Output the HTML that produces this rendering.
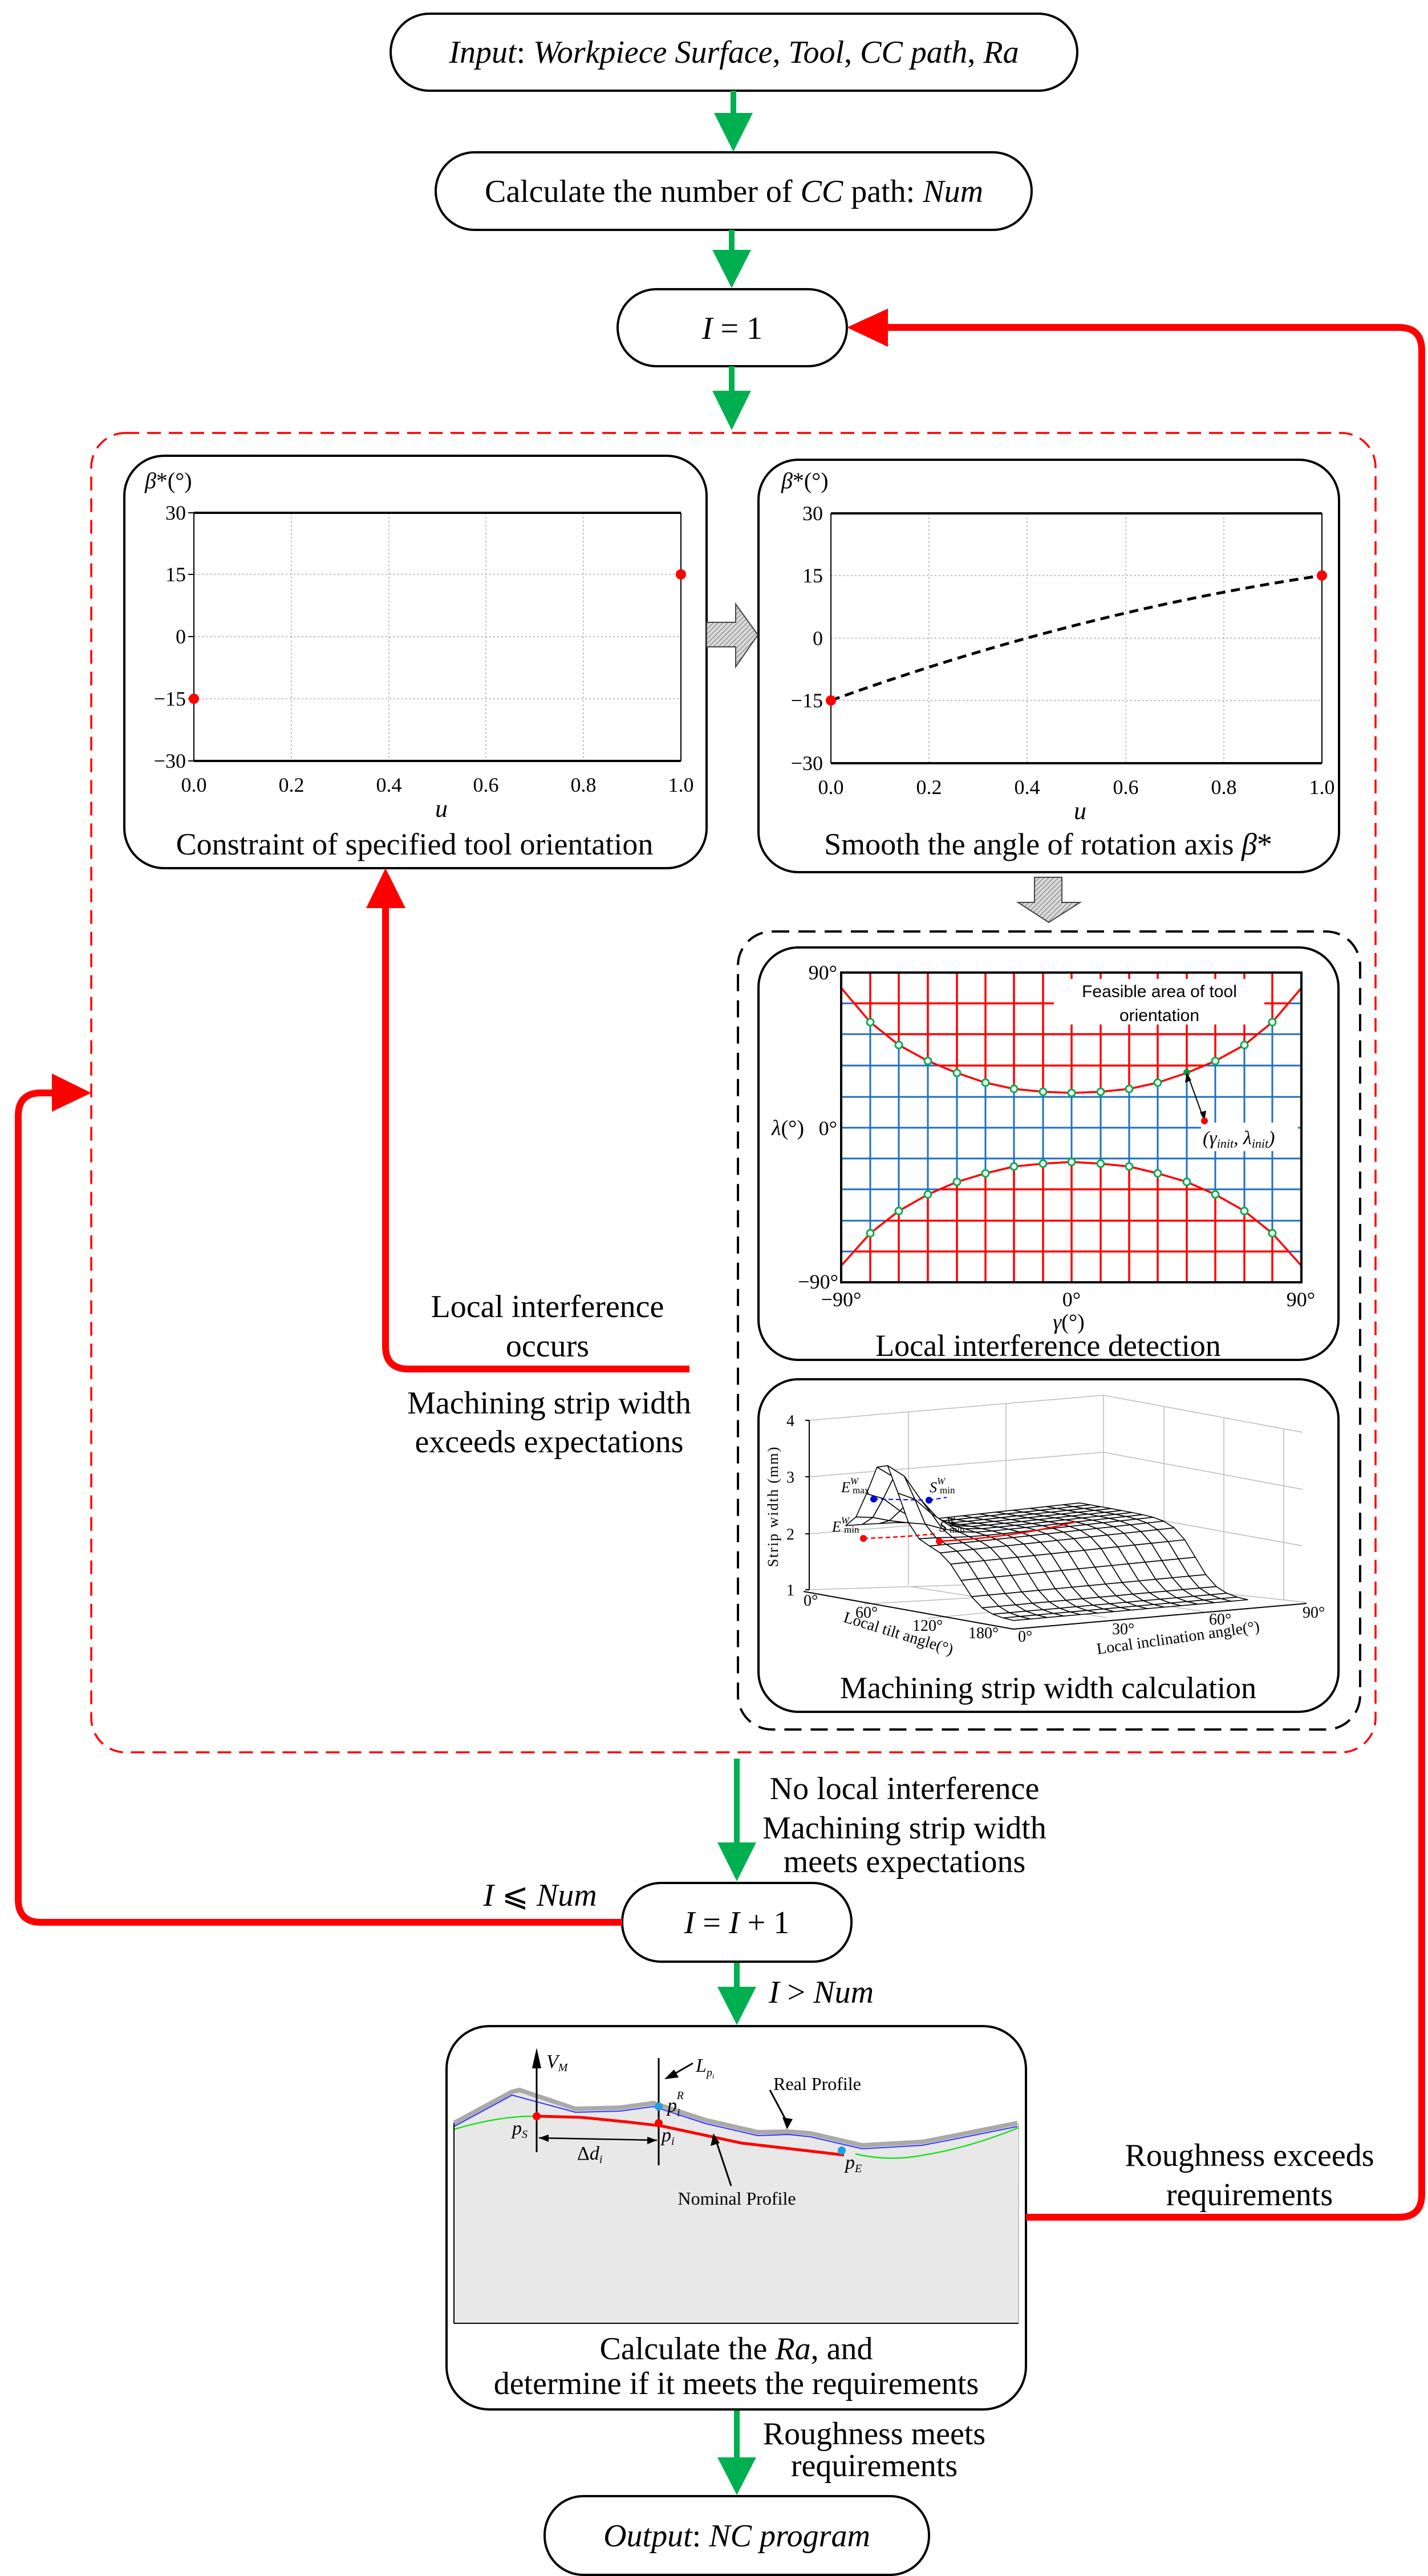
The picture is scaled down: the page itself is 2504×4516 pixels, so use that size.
<!DOCTYPE html>
<html><head><meta charset="utf-8"><style>
html,body{margin:0;padding:0;background:#fff;}
svg{display:block;}
text{font-family:"Liberation Serif",serif;}
.t56{font-size:56px;text-anchor:middle;}
.it{font-style:italic;}
.tk{font-size:36px;}
.sans{font-family:"Liberation Sans",sans-serif;}
</style></head><body>
<svg id="s" width="2504" height="4516" viewBox="0 0 2504 4516" xmlns="http://www.w3.org/2000/svg">
<defs>
<pattern id="hatch" width="6" height="6" patternUnits="userSpaceOnUse" patternTransform="rotate(45)">
<rect width="6" height="6" fill="#d8d8d8"/><line x1="0" y1="0" x2="0" y2="6" stroke="#777" stroke-width="2"/></pattern>
<clipPath id="outside">
<path d="M1475,1705 L2282,1705 L2282,1732 L2231,1792 L2182,1832 L2131,1860 L2081,1881 L2030,1898 L1980,1909 L1930,1914 L1879,1916 L1829,1914 L1778,1909 L1728,1898 L1678,1881 L1627,1860 L1576,1832 L1526,1792 L1475,1732 Z M1475,2248 L2282,2248 L2282,2219 L2231,2162 L2182,2123 L2131,2094 L2081,2072 L2030,2057 L1980,2045 L1930,2040 L1879,2037 L1829,2040 L1778,2045 L1728,2057 L1678,2072 L1627,2094 L1576,2123 L1526,2162 L1475,2219 Z"/>
</clipPath>
</defs>

<!-- Top boxes -->
<rect x="685" y="24" width="1204" height="135" rx="68" fill="#fff" stroke="#000" stroke-width="4"/>
<text x="1287" y="110" class="t56"><tspan class="it">Input</tspan>: <tspan class="it">Workpiece Surface</tspan>, <tspan class="it">Tool</tspan>, <tspan class="it">CC path</tspan>, <tspan class="it">Ra</tspan></text>
<rect x="764" y="267" width="1045" height="136" rx="68" fill="#fff" stroke="#000" stroke-width="4"/>
<text x="1287" y="354" class="t56">Calculate the number of <tspan class="it">CC</tspan> path: <tspan class="it">Num</tspan></text>
<rect x="1083" y="507" width="402" height="135" rx="68" fill="#fff" stroke="#000" stroke-width="4"/>
<text x="1284" y="594" class="t56"><tspan class="it">I</tspan> = 1</text>

<!-- green arrows -->
<g fill="#00b050">
<rect x="1281" y="159" width="10" height="45"/><polygon points="1252,198 1320,198 1286,266"/>
<rect x="1278" y="403" width="10" height="40"/><polygon points="1249,438 1317,438 1283,505"/>
<rect x="1278" y="642" width="10" height="48"/><polygon points="1249,685 1317,685 1283,754"/>
<rect x="1287" y="3083" width="10" height="152"/><polygon points="1258,3230 1326,3230 1292,3298"/>
<rect x="1287" y="3439" width="10" height="49"/><polygon points="1258,3483 1326,3483 1292,3550"/>
<rect x="1287" y="4224" width="10" height="89"/><polygon points="1258,4308 1326,4308 1292,4374"/>
</g>

<!-- red dashed big box -->
<rect x="160" y="759" width="2252" height="2313" rx="60" fill="none" stroke="#f00" stroke-width="3.5" stroke-dasharray="24 14"/>

<!-- Left plot box -->
<rect x="218" y="799" width="1021" height="723" rx="70" fill="#fff" stroke="#000" stroke-width="4"/>
<g>
<g stroke="#aaa" stroke-width="1.5" stroke-dasharray="3 4">
<line x1="340" y1="1007" x2="1194" y2="1007"/><line x1="340" y1="1116" x2="1194" y2="1116"/><line x1="340" y1="1225" x2="1194" y2="1225"/>
<line x1="511" y1="899" x2="511" y2="1334"/><line x1="682" y1="899" x2="682" y2="1334"/><line x1="852" y1="899" x2="852" y2="1334"/><line x1="1023" y1="899" x2="1023" y2="1334"/>
</g>
<line x1="340" y1="899" x2="1194" y2="899" stroke="#000" stroke-width="4"/>
<line x1="340" y1="1334" x2="1194" y2="1334" stroke="#000" stroke-width="4"/>
<line x1="340" y1="899" x2="340" y2="1334" stroke="#000" stroke-width="2"/>
<line x1="1194" y1="899" x2="1194" y2="1334" stroke="#000" stroke-width="2"/>
<g stroke="#000" stroke-width="2">
<line x1="330" y1="899" x2="340" y2="899"/><line x1="330" y1="1007" x2="340" y2="1007"/><line x1="330" y1="1116" x2="340" y2="1116"/><line x1="330" y1="1225" x2="340" y2="1225"/><line x1="330" y1="1334" x2="340" y2="1334"/>
</g>
<g class="tk" text-anchor="end">
<text x="326" y="911">30</text><text x="326" y="1019">15</text><text x="326" y="1128">0</text><text x="326" y="1237">−15</text><text x="326" y="1346">−30</text></g>
<g class="tk" text-anchor="middle">
<text x="340" y="1388">0.0</text><text x="511" y="1388">0.2</text><text x="682" y="1388">0.4</text><text x="852" y="1388">0.6</text><text x="1023" y="1388">0.8</text><text x="1194" y="1388">1.0</text></g>
<text x="774" y="1432" font-size="44" font-style="italic" text-anchor="middle">u</text>
<text x="254" y="856" font-size="40"><tspan font-style="italic">β</tspan>*(°)</text>
<circle cx="340" cy="1225" r="9" fill="#f00"/><circle cx="1194" cy="1007" r="9" fill="#f00"/>
<text x="727" y="1498" font-size="54" text-anchor="middle">Constraint of specified tool orientation</text>
</g>

<!-- Right plot box -->
<rect x="1330" y="806" width="1018" height="723" rx="70" fill="#fff" stroke="#000" stroke-width="4"/>
<g>
<g stroke="#aaa" stroke-width="1.5" stroke-dasharray="3 4">
<line x1="1457" y1="1009" x2="2318" y2="1009"/><line x1="1457" y1="1119" x2="2318" y2="1119"/><line x1="1457" y1="1228" x2="2318" y2="1228"/>
<line x1="1629" y1="900" x2="1629" y2="1338"/><line x1="1801" y1="900" x2="1801" y2="1338"/><line x1="1974" y1="900" x2="1974" y2="1338"/><line x1="2146" y1="900" x2="2146" y2="1338"/>
</g>
<line x1="1457" y1="900" x2="2318" y2="900" stroke="#000" stroke-width="4"/>
<line x1="1457" y1="1338" x2="2318" y2="1338" stroke="#000" stroke-width="4"/>
<line x1="1457" y1="900" x2="1457" y2="1338" stroke="#000" stroke-width="2"/>
<line x1="2318" y1="900" x2="2318" y2="1338" stroke="#000" stroke-width="2"/>
<g class="tk" text-anchor="end">
<text x="1443" y="912">30</text><text x="1443" y="1021">15</text><text x="1443" y="1131">0</text><text x="1443" y="1240">−15</text><text x="1443" y="1350">−30</text></g>
<g class="tk" text-anchor="middle">
<text x="1457" y="1392">0.0</text><text x="1629" y="1392">0.2</text><text x="1801" y="1392">0.4</text><text x="1974" y="1392">0.6</text><text x="2146" y="1392">0.8</text><text x="2318" y="1392">1.0</text></g>
<text x="1894" y="1436" font-size="44" font-style="italic" text-anchor="middle">u</text>
<text x="1370" y="856" font-size="40"><tspan font-style="italic">β</tspan>*(°)</text>
<path d="M1457,1228 Q1887,1073 2318,1009" fill="none" stroke="#000" stroke-width="5" stroke-dasharray="16 10"/>
<circle cx="1457" cy="1228" r="9" fill="#f00"/><circle cx="2318" cy="1009" r="9" fill="#f00"/>
<text x="1838" y="1498" font-size="54" text-anchor="middle">Smooth the angle of rotation axis <tspan font-style="italic">β</tspan>*</text>
</g>

<!-- gray hatched arrows -->
<polygon points="1239,1091 1290,1091 1290,1059 1329,1113 1290,1169 1290,1134 1239,1134" fill="url(#hatch)" stroke="#444" stroke-width="2"/>
<polygon points="1814,1538 1862,1538 1862,1582 1894,1582 1839,1617 1785,1582 1814,1582" fill="url(#hatch)" stroke="#444" stroke-width="2"/>

<!-- black dashed box -->
<rect x="1294" y="1633" width="1091" height="1399" rx="60" fill="none" stroke="#000" stroke-width="4" stroke-dasharray="30 16"/>

<!-- Interference box -->
<rect x="1330" y="1661" width="1017" height="723" rx="70" fill="#fff" stroke="#000" stroke-width="4"/>
<g>
<g stroke="#1f6fc0" stroke-width="3">
<line x1="1526" y1="1705" x2="1526" y2="2248"/><line x1="1576" y1="1705" x2="1576" y2="2248"/><line x1="1627" y1="1705" x2="1627" y2="2248"/><line x1="1678" y1="1705" x2="1678" y2="2248"/><line x1="1728" y1="1705" x2="1728" y2="2248"/><line x1="1778" y1="1705" x2="1778" y2="2248"/><line x1="1829" y1="1705" x2="1829" y2="2248"/><line x1="1879" y1="1705" x2="1879" y2="2248"/><line x1="1930" y1="1705" x2="1930" y2="2248"/><line x1="1980" y1="1705" x2="1980" y2="2248"/><line x1="2030" y1="1705" x2="2030" y2="2248"/><line x1="2081" y1="1705" x2="2081" y2="2248"/><line x1="2131" y1="1705" x2="2131" y2="2248"/><line x1="2182" y1="1705" x2="2182" y2="2248"/><line x1="2231" y1="1705" x2="2231" y2="2248"/>
<line x1="1475" y1="1759" x2="2282" y2="1759"/><line x1="1475" y1="1813" x2="2282" y2="1813"/><line x1="1475" y1="1868" x2="2282" y2="1868"/><line x1="1475" y1="1923" x2="2282" y2="1923"/><line x1="1475" y1="1977" x2="2282" y2="1977"/><line x1="1475" y1="2031" x2="2282" y2="2031"/><line x1="1475" y1="2085" x2="2282" y2="2085"/><line x1="1475" y1="2140" x2="2282" y2="2140"/><line x1="1475" y1="2194" x2="2282" y2="2194"/>
</g>
<g stroke="#f00" stroke-width="3.5" clip-path="url(#outside)">
<line x1="1526" y1="1705" x2="1526" y2="2248"/><line x1="1576" y1="1705" x2="1576" y2="2248"/><line x1="1627" y1="1705" x2="1627" y2="2248"/><line x1="1678" y1="1705" x2="1678" y2="2248"/><line x1="1728" y1="1705" x2="1728" y2="2248"/><line x1="1778" y1="1705" x2="1778" y2="2248"/><line x1="1829" y1="1705" x2="1829" y2="2248"/><line x1="1879" y1="1705" x2="1879" y2="2248"/><line x1="1930" y1="1705" x2="1930" y2="2248"/><line x1="1980" y1="1705" x2="1980" y2="2248"/><line x1="2030" y1="1705" x2="2030" y2="2248"/><line x1="2081" y1="1705" x2="2081" y2="2248"/><line x1="2131" y1="1705" x2="2131" y2="2248"/><line x1="2182" y1="1705" x2="2182" y2="2248"/><line x1="2231" y1="1705" x2="2231" y2="2248"/>
<line x1="1475" y1="1759" x2="2282" y2="1759"/><line x1="1475" y1="1813" x2="2282" y2="1813"/><line x1="1475" y1="1868" x2="2282" y2="1868"/><line x1="1475" y1="1923" x2="2282" y2="1923"/><line x1="1475" y1="2031" x2="2282" y2="2031"/><line x1="1475" y1="2085" x2="2282" y2="2085"/><line x1="1475" y1="2140" x2="2282" y2="2140"/><line x1="1475" y1="2194" x2="2282" y2="2194"/>
</g>
<rect x="1848" y="1716" width="369" height="80" fill="#fff"/>
<text x="2033" y="1748" font-size="30" text-anchor="middle" class="sans">Feasible area of tool</text>
<text x="2033" y="1790" font-size="30" text-anchor="middle" class="sans">orientation</text>
<g fill="none" stroke="#f00" stroke-width="3.5">
<polyline points="1475,1732 1526,1792 1576,1832 1627,1860 1678,1881 1728,1898 1778,1909 1829,1914 1879,1916 1930,1914 1980,1909 2030,1898 2081,1881 2131,1860 2182,1832 2231,1792 2282,1732"/>
<polyline points="1475,2219 1526,2162 1576,2123 1627,2094 1678,2072 1728,2057 1778,2045 1829,2040 1879,2037 1930,2040 1980,2045 2030,2057 2081,2072 2131,2094 2182,2123 2231,2162 2282,2219"/>
</g>
<g fill="#fff" stroke="#00b050" stroke-width="3">
<circle cx="1526" cy="1792" r="6"/><circle cx="1576" cy="1832" r="6"/><circle cx="1627" cy="1860" r="6"/><circle cx="1678" cy="1881" r="6"/><circle cx="1728" cy="1898" r="6"/><circle cx="1778" cy="1909" r="6"/><circle cx="1829" cy="1914" r="6"/><circle cx="1879" cy="1916" r="6"/><circle cx="1930" cy="1914" r="6"/><circle cx="1980" cy="1909" r="6"/><circle cx="2030" cy="1898" r="6"/><circle cx="2131" cy="1860" r="6"/><circle cx="2182" cy="1832" r="6"/><circle cx="2231" cy="1792" r="6"/>
<circle cx="1526" cy="2162" r="6"/><circle cx="1576" cy="2123" r="6"/><circle cx="1627" cy="2094" r="6"/><circle cx="1678" cy="2072" r="6"/><circle cx="1728" cy="2057" r="6"/><circle cx="1778" cy="2045" r="6"/><circle cx="1829" cy="2040" r="6"/><circle cx="1879" cy="2037" r="6"/><circle cx="1930" cy="2040" r="6"/><circle cx="1980" cy="2045" r="6"/><circle cx="2030" cy="2057" r="6"/><circle cx="2081" cy="2072" r="6"/><circle cx="2131" cy="2094" r="6"/><circle cx="2182" cy="2123" r="6"/><circle cx="2231" cy="2162" r="6"/>
</g>
<circle cx="2081" cy="1880" r="6" fill="#00a040"/>
<rect x="2106" y="1968" width="170" height="50" fill="#fff"/>
<line x1="2084" y1="1888" x2="2109" y2="1957" stroke="#000" stroke-width="2"/>
<polygon points="2081,1880 2078,1898 2089,1894" fill="#000"/><polygon points="2112,1965 2104,1950 2115,1947" fill="#000"/>
<circle cx="2112" cy="1965" r="6" fill="#f00"/>
<text x="2109" y="2006" font-size="34" font-style="italic">(γ<tspan font-size="22" dy="6">init</tspan><tspan dy="-6">, λ</tspan><tspan font-size="22" dy="6">init</tspan><tspan dy="-6">)</tspan></text>
<rect x="1475" y="1705" width="807" height="543" fill="none" stroke="#000" stroke-width="4"/>
<g font-size="36" text-anchor="end">
<text x="1468" y="1717">90°</text><text x="1468" y="1990">0°</text><text x="1470" y="2259">−90°</text></g>
<text x="1353" y="1990" font-size="38"><tspan font-style="italic">λ</tspan>(°)</text>
<g font-size="36" text-anchor="middle">
<text x="1475" y="2290">−90°</text><text x="1879" y="2290">0°</text><text x="2281" y="2290">90°</text></g>
<text x="1874" y="2330" font-size="38" text-anchor="middle"><tspan font-style="italic">γ</tspan>(°)</text>
<text x="1838" y="2377" font-size="54" text-anchor="middle">Local interference detection</text>
</g>

<!-- Strip width box -->
<rect x="1330" y="2418" width="1017" height="583" rx="70" fill="#fff" stroke="#000" stroke-width="4"/>
<g id="strip">
<g stroke="#bbb" stroke-width="1.5" fill="none">
<polyline points="1419,2490 1935,2446 2284,2511"/>
<polyline points="1419,2589 1935,2546 2284,2611"/>
<polyline points="1419,2689 1935,2647 2284,2710"/>
<polyline points="1419,2787 1935,2771 2291,2809"/>
<line x1="1935" y1="2446" x2="1935" y2="2771"/>
<line x1="1593" y1="2476" x2="1593" y2="2779"/><line x1="1764" y1="2460" x2="1764" y2="2775"/>
<line x1="2041" y1="2466" x2="2041" y2="2786"/><line x1="2146" y1="2486" x2="2146" y2="2797"/><line x1="2251" y1="2505" x2="2251" y2="2806"/>
<line x1="1515" y1="2812" x2="2025" y2="2783"/><line x1="1627" y1="2837" x2="2100" y2="2792"/>
<line x1="1941" y1="2836" x2="1600" y2="2782"/><line x1="2110" y1="2825" x2="1780" y2="2777"/>
</g>
<g stroke="#000" stroke-width="2" fill="none">
<line x1="1419" y1="2490" x2="1419" y2="2787"/>
<line x1="1409" y1="2790" x2="1777" y2="2856"/>
<line x1="1777" y1="2856" x2="2291" y2="2811"/>
<line x1="1412" y1="2490" x2="1419" y2="2490"/><line x1="1412" y1="2589" x2="1419" y2="2589"/><line x1="1412" y1="2689" x2="1419" y2="2689"/><line x1="1412" y1="2787" x2="1419" y2="2787"/>
</g>
<g id="mesh"></g>
<line x1="1532" y1="2628" x2="1629" y2="2630" stroke="#00f" stroke-width="2" stroke-dasharray="8 5"/>
<line x1="1629" y1="2630" x2="1660" y2="2625" stroke="#00f" stroke-width="2" stroke-dasharray="8 5"/>
<circle cx="1532" cy="2628" r="6" fill="#00c"/><circle cx="1629" cy="2630" r="6" fill="#00c"/>
<path d="M1514,2697 Q1580,2695 1640,2689" fill="none" stroke="#f00" stroke-width="2.5" stroke-dasharray="8 5"/>
<path d="M1647,2702 Q1780,2695 1886,2668" fill="none" stroke="#f00" stroke-width="2.5"/>
<circle cx="1514" cy="2697" r="6" fill="#f00"/><circle cx="1647" cy="2702" r="6" fill="#f00"/>
<g font-size="26">
<text x="1475" y="2616" font-style="italic">E<tspan font-size="17" dy="-14">W</tspan></text><text x="1495" y="2618" font-size="17">max</text>
<text x="1630" y="2616" font-style="italic">S<tspan font-size="17" dy="-14">W</tspan></text><text x="1648" y="2618" font-size="17">min</text>
<text x="1459" y="2685" font-style="italic">E<tspan font-size="17" dy="-14">W</tspan></text><text x="1480" y="2687" font-size="17">min</text>
<text x="1647" y="2685" font-style="italic">S<tspan font-size="17" dy="-14">W</tspan></text><text x="1665" y="2687" font-size="17">min</text>
</g>
<g font-size="28">
<text x="1393" y="2500" text-anchor="end">4</text><text x="1393" y="2599" text-anchor="end">3</text><text x="1393" y="2699" text-anchor="end">2</text><text x="1393" y="2797" text-anchor="end">1</text>
<text x="1409" y="2815">0°</text><text x="1500" y="2836">60°</text><text x="1600" y="2859">120°</text><text x="1698" y="2872">180°</text>
<text x="1785" y="2878">0°</text><text x="1950" y="2865">30°</text><text x="2120" y="2848">60°</text><text x="2284" y="2836">90°</text>
<text transform="translate(1573,2872) rotate(17)" text-anchor="middle">Local tilt angle(°)</text>
<text transform="translate(2067,2880) rotate(-8)" text-anchor="middle">Local inclination angle(°)</text>
<text transform="translate(1364,2641) rotate(-90)" text-anchor="middle" font-size="26" letter-spacing="2">Strip width (mm)</text>
</g>
<text x="1838" y="2977" font-size="54" text-anchor="middle">Machining strip width calculation</text>
</g>

<!-- I=I+1 box -->
<rect x="1091" y="3301" width="402" height="138" rx="68" fill="#fff" stroke="#000" stroke-width="4"/>
<text x="1292" y="3389" class="t56"><tspan class="it">I</tspan> = <tspan class="it">I</tspan> + 1</text>

<!-- Bottom box with profile -->
<rect x="783" y="3552" width="1016" height="672" rx="75" fill="#fff" stroke="#000" stroke-width="4"/>
<path d="M796,3722 L898,3667 L911,3664 L1009,3697 L1087,3695 L1146,3687 L1238,3717 L1329,3738 L1382,3737 L1421,3740 L1512,3761 L1617,3755 L1669,3745 L1784,3722 L1786,4073 L796,4073 Z" fill="#e8e8e8" stroke="none"/>
<path d="M796,3722 L898,3667 L911,3664 L1009,3697 L1087,3695 L1146,3687 L1238,3717 L1329,3738 L1382,3737 L1421,3740 L1512,3761 L1617,3755 L1669,3745 L1784,3722" fill="none" stroke="#aaa" stroke-width="8"/>
<path d="M796,3728 L898,3673 L1009,3703 L1087,3701 L1146,3693 L1238,3723 L1329,3744 L1382,3742 L1421,3746 L1512,3767 L1617,3761 L1669,3751 L1784,3728" fill="none" stroke="#33f" stroke-width="2"/>
<path d="M796,3733 Q880,3708 947,3710 M1500,3776 Q1560,3790 1620,3778 Q1700,3765 1786,3730" fill="none" stroke="#2d2" stroke-width="2.5"/>
<polyline points="947,3710 1020,3712 1100,3720 1160,3727 1300,3757 1480,3778" fill="none" stroke="#f00" stroke-width="5"/>
<line x1="796" y1="4073" x2="1786" y2="4073" stroke="#000" stroke-width="2"/>
<line x1="796" y1="3722" x2="796" y2="4073" stroke="#000" stroke-width="2"/>
<line x1="1786" y1="3722" x2="1786" y2="4073" stroke="#888" stroke-width="1"/>
<line x1="941" y1="3620" x2="941" y2="3773" stroke="#000" stroke-width="3"/>
<polygon points="933,3626 949,3626 941,3590" fill="#000"/>
<line x1="1155" y1="3608" x2="1155" y2="3796" stroke="#000" stroke-width="3"/>
<line x1="1215" y1="3617" x2="1175" y2="3640" stroke="#000" stroke-width="3"/>
<polygon points="1165,3645 1182,3628 1190,3642" fill="#000"/>
<line x1="1350" y1="3664" x2="1383" y2="3726" stroke="#000" stroke-width="3"/>
<polygon points="1380,3733 1372,3712 1390,3715" fill="#000"/>
<line x1="1282" y1="3832" x2="1254" y2="3748" stroke="#000" stroke-width="3"/>
<polygon points="1251,3740 1246,3762 1262,3757" fill="#000"/>
<line x1="945" y1="3748" x2="1152" y2="3752" stroke="#000" stroke-width="2.5"/>
<polygon points="945,3748 962,3742 962,3755" fill="#000"/><polygon points="1152,3752 1135,3746 1135,3759" fill="#000"/>
<circle cx="941" cy="3710" r="7" fill="#f00"/><circle cx="1155" cy="3722" r="7" fill="#f00"/>
<circle cx="1155" cy="3693" r="7" fill="#1ea0e6"/><circle cx="1476" cy="3770" r="7" fill="#1ea0e6"/>
<g font-size="34" font-style="italic">
<text x="958" y="3625">V<tspan font-size="20" dy="6">M</tspan></text>
<text x="1220" y="3632">L<tspan font-size="20" dy="8">p</tspan><tspan font-size="13" dy="4">i</tspan></text>
<text x="1170" y="3702">p<tspan font-size="20" dy="8">i</tspan><tspan font-size="20" dx="-6" dy="-30">R</tspan></text>
<text x="898" y="3742">p<tspan font-size="20" dy="6">S</tspan></text>
<text x="1160" y="3754">p<tspan font-size="20" dy="6">i</tspan></text>
<text x="1012" y="3786"><tspan font-style="normal">Δ</tspan>d<tspan font-size="20" dy="6">i</tspan></text>
<text x="1482" y="3802">p<tspan font-size="20" dy="6">E</tspan></text>
</g>
<text x="1433" y="3664" font-size="32" text-anchor="middle">Real Profile</text>
<text x="1292" y="3865" font-size="32" text-anchor="middle">Nominal Profile</text>
<text x="1291" y="4136" class="t56">Calculate the <tspan class="it">Ra</tspan>, and</text>
<text x="1291" y="4197" class="t56">determine if it meets the requirements</text>

<!-- Output -->
<rect x="955" y="4376" width="674" height="138" rx="68" fill="#fff" stroke="#000" stroke-width="4"/>
<text x="1292" y="4464" class="t56"><tspan class="it">Output</tspan>: <tspan class="it">NC program</tspan></text>

<!-- red connectors -->
<g fill="none" stroke="#f00" stroke-width="12" stroke-linejoin="round">
<path d="M1799,3887 L2453,3887 Q2493,3887 2493,3847 L2493,614 Q2493,574 2453,574 L1550,574"/>
<path d="M1091,3370 L72,3370 Q32,3370 32,3330 L32,1956 Q32,1916 72,1916 L96,1916"/>
<path d="M1209,2400 L716,2400 Q676,2400 676,2360 L676,1585"/>
</g>
<g fill="#f00">
<polygon points="1557,541 1557,608 1485,574"/>
<polygon points="91,1882 91,1949 160,1916"/>
<polygon points="642,1592 711,1592 676,1522"/>
</g>

<!-- connector labels -->
<text x="960" y="2309" class="t56">Local interference</text>
<text x="960" y="2378" class="t56">occurs</text>
<text x="963" y="2478" class="t56">Machining strip width</text>
<text x="963" y="2546" class="t56">exceeds expectations</text>
<text x="1586" y="3154" class="t56">No local interference</text>
<text x="1586" y="3223" class="t56">Machining strip width</text>
<text x="1586" y="3282" class="t56">meets expectations</text>
<text x="947" y="3341" class="t56"><tspan class="it">I</tspan> ⩽ <tspan class="it">Num</tspan></text>
<text x="1348" y="3511" font-size="56"><tspan class="it">I</tspan> &gt; <tspan class="it">Num</tspan></text>
<text x="2191" y="3797" class="t56">Roughness exceeds</text>
<text x="2191" y="3866" class="t56">requirements</text>
<text x="1533" y="4285" class="t56">Roughness meets</text>
<text x="1533" y="4341" class="t56">requirements</text>
</svg>
<script>
(function(){
var g=document.getElementById('mesh');var NS='http://www.w3.org/2000/svg';
function sig(x){return 1/(1+Math.exp(-x));}
function h(t,s){return 1.15+1.1*sig((0.75-t)/0.05)*(1+0.1*s)+1.3*Math.exp(-Math.pow((t-0.38)/0.1,2))*Math.exp(-Math.pow(s/0.13,2));}
function P(t,s){var z=h(t,s);var dx=120+560*t+780*s;var dy=985+175*t-120*s-262*(z-1);return [1330+0.658*dx,2418+0.378*dy];}
var NT=16,NS2=14,t0=0.2,t1=1.0,s0=0,s1=0.8;var q=[];
for(var i=0;i<NT;i++)for(var j=0;j<NS2;j++){var ta=t0+(t1-t0)*i/NT,tb=t0+(t1-t0)*(i+1)/NT,sa=s0+(s1-s0)*j/NS2,sb=s0+(s1-s0)*(j+1)/NS2;
q.push({d:(1-(ta+tb)/2)+(sa+sb)/2,p:[P(ta,sa),P(tb,sa),P(tb,sb),P(ta,sb)]});}
q.sort(function(a,b){return b.d-a.d;});
q.forEach(function(o){var e=document.createElementNS(NS,'polygon');e.setAttribute('points',o.p.map(function(p){return p[0].toFixed(1)+','+p[1].toFixed(1);}).join(' '));e.setAttribute('fill','#fff');e.setAttribute('stroke','#000');e.setAttribute('stroke-width','1.6');e.setAttribute('stroke-linejoin','round');g.appendChild(e);});
})();
</script>
</body></html>
